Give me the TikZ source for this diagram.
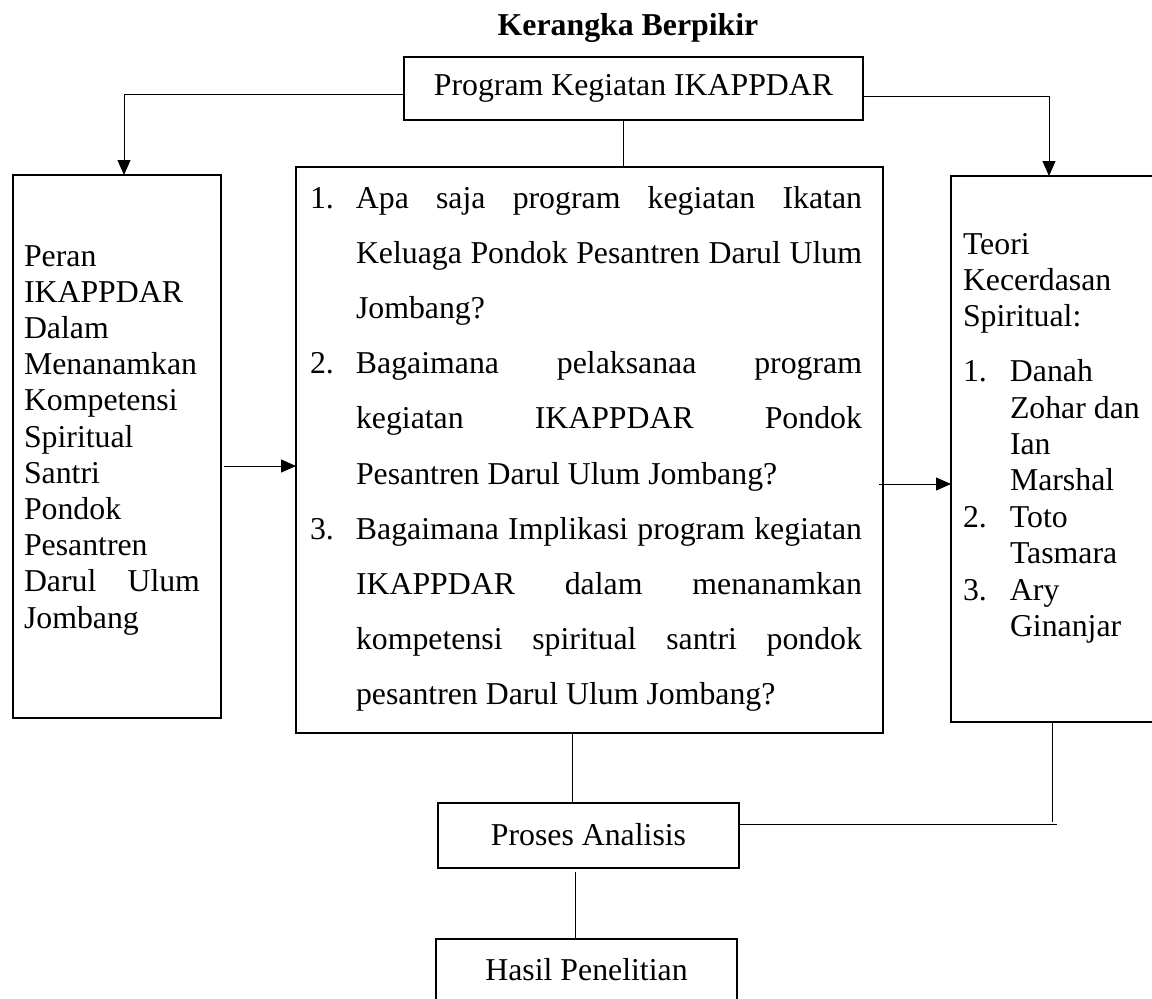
\documentclass[tikz,border=0pt]{standalone}
\usepackage{fontspec}
\setmainfont{Liberation Serif}
\usetikzlibrary{arrows.meta}
\newcommand{\bodysize}{\fontsize{31.8}{36.4}\selectfont}
\newcommand{\numlbl}[2][46pt]{\makebox[#1][l]{#2}}
\newcommand{\jline}[1]{\makebox[506pt][s]{#1}}
\newcommand{\hangsp}[1][46pt]{\hspace*{#1}}
\tikzset{
  box/.style={draw, line width=2pt, inner sep=0pt, outer sep=0pt, anchor=north west},
  txt/.style={inner sep=0pt, outer sep=0pt, font=\bodysize},
  conn/.style={line width=1pt},
  arr/.style={conn, -{Triangle[length=15pt,width=13pt]}}
}
\begin{document}
\begin{tikzpicture}[x=1pt,y=-1pt]
\useasboundingbox (0,0) rectangle (1152,999);
\clip (0,0) rectangle (1152,999);
\fill[white] (0,0) rectangle (1152,999);

% title
\node[txt, anchor=base, font=\bodysize\bfseries] (title) at (628,35) {Kerangka Berpikir};

% boxes
\node[box, minimum width=459pt, minimum height=63pt] (top) at (404,57) {};
\node[box, minimum width=208pt, minimum height=543pt] (left) at (13,175) {};
\node[box, minimum width=587pt, minimum height=566pt] (mid) at (296,167) {};
\node[box, minimum width=209pt, minimum height=546pt] (right) at (951,176) {};
\node[box, minimum width=301pt, minimum height=65pt] (pro) at (438,803) {};
\node[box, minimum width=301pt, minimum height=80pt] (has) at (436,939) {};

% texts
\node[txt, anchor=base] (toptxt) at (633.5,95) {Program Kegiatan IKAPPDAR};
\node[txt, anchor=base] (protxt) at (588.5,845) {Proses Analisis};
\node[txt, anchor=base] (hastxt) at (586.5,980) {Hasil Penelitian};

\node[txt, anchor=base west] (lefttxt) at (24,266) {\parbox[t]{176pt}{\fontsize{31.8}{36.2}\selectfont
Peran\\
IKAPPDAR\\
Dalam\\
Menanamkan\\
Kompetensi\\
Spiritual\\
Santri\\
Pondok\\
Pesantren\\
\makebox[176pt][s]{Darul Ulum}\\
Jombang}};

\node[txt, anchor=base west] (midtxt) at (310,208) {\parbox[t]{552pt}{\fontsize{31.8}{55.2}\selectfont
\numlbl{1.}\jline{Apa saja program kegiatan Ikatan}\\
\hangsp\jline{Keluaga Pondok Pesantren Darul Ulum}\\
\hangsp Jombang?\\
\numlbl{2.}\jline{Bagaimana pelaksanaa program}\\
\hangsp\jline{kegiatan IKAPPDAR Pondok}\\
\hangsp Pesantren Darul Ulum Jombang?\\
\numlbl{3.}\jline{Bagaimana Implikasi program kegiatan}\\
\hangsp\jline{IKAPPDAR dalam menanamkan}\\
\hangsp\jline{kompetensi spiritual santri pondok}\\
\hangsp pesantren Darul Ulum Jombang?}};

\node[txt, anchor=base west] (righttxt) at (963,254) {\parbox[t]{190pt}{\fontsize{31.8}{36.4}\selectfont
Teori\\
Kecerdasan\\
Spiritual:\\[18.5pt]
\numlbl[47pt]{1.}Danah\\
\hangsp[47pt]Zohar dan\\
\hangsp[47pt]Ian\\
\hangsp[47pt]Marshal\\
\numlbl[47pt]{2.}Toto\\
\hangsp[47pt]Tasmara\\
\numlbl[47pt]{3.}Ary\\
\hangsp[47pt]Ginanjar}};

% connectors
\draw[arr] ([yshift=-5.5pt]top.west) -| ([xshift=7pt]left.north);
\draw[arr] ([yshift=-7.5pt]top.east) -| ([xshift=-6.5pt]right.north);
\coordinate (tc) at ([xshift=-10.5pt]top.south);
\draw[conn] (tc) -- (tc |- mid.north);

\coordinate (la) at ([xshift=3pt,yshift=-19.5pt]left.east);
\draw[arr] (la) -- (la -| mid.west);
\coordinate (ra) at ([xshift=-4pt,yshift=-34pt]mid.east);
\draw[arr] (ra) -- (ra -| right.west);

\coordinate (mp) at ([xshift=-17.5pt]mid.south);
\draw[conn] (mp) -- (mp |- pro.north);
\coordinate (ph) at ([xshift=-13.5pt,yshift=-4pt]pro.south);
\draw[conn] (ph) -- (ph |- has.north);

\coordinate (rb) at ([xshift=-3.5pt]right.south);
\coordinate (pe) at ([yshift=11.5pt]pro.east);
\coordinate (pk) at ([yshift=2pt]rb |- pe);
\draw[conn] (rb) -- (pk);
\draw[conn] (pe) -- ([xshift=5pt]rb |- pe);
\end{tikzpicture}
\end{document}
